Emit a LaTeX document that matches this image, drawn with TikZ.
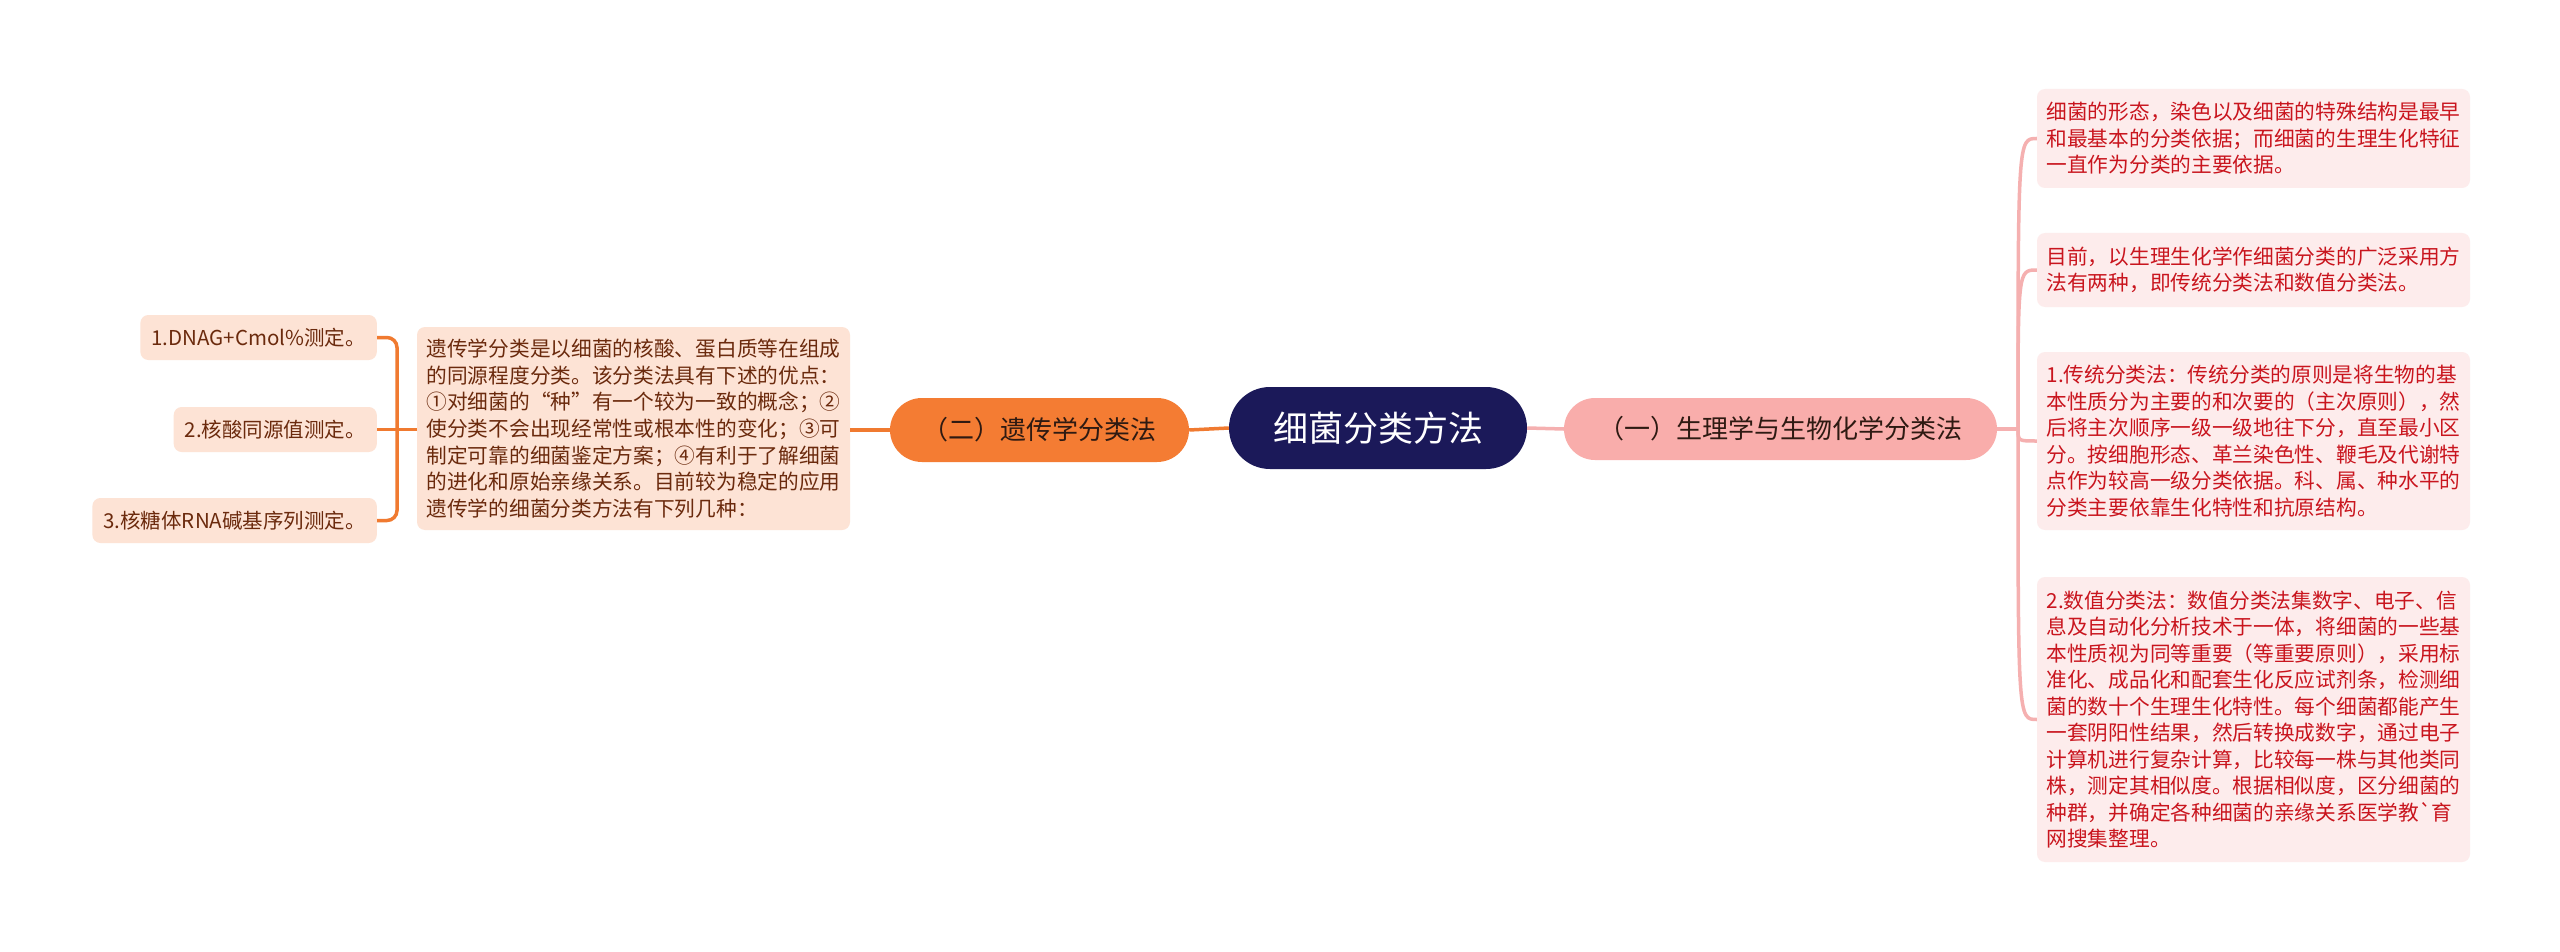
\documentclass[tikz,border=0pt]{standalone}
\usepackage{fontspec}
\setmainfont{Noto Sans CJK SC}[Ligatures=TeXOff]
\definecolor{rootc}{HTML}{1B1959}
\definecolor{orangec}{HTML}{F47C33}
\definecolor{orangeline}{HTML}{F07A30}
\definecolor{peachc}{HTML}{FDE3D5}
\definecolor{peachtext}{HTML}{6B2A0D}
\definecolor{pinkc}{HTML}{F9ADAB}
\definecolor{pinkline}{HTML}{F5B0B0}
\definecolor{rosec}{HTML}{FDECEC}
\definecolor{redtext}{HTML}{C9151E}
\definecolor{darktext}{HTML}{2E1A12}
\begin{document}
\begin{tikzpicture}[x=1pt,y=-1pt,
  rootbox/.style={fill=rootc, rounded corners=41pt, minimum width=298pt, minimum height=82pt, inner sep=0pt, text=white, font=\fontsize{35}{40}\selectfont},
  ochild/.style={fill=orangec, rounded corners=32pt, minimum width=299pt, minimum height=64pt, inner sep=0pt, text=darktext, font=\fontsize{26}{30}\selectfont},
  pchild/.style={fill=pinkc, rounded corners=31pt, minimum width=433pt, minimum height=62pt, inner sep=0pt, text=darktext, font=\fontsize{26}{30}\selectfont},
  descbox/.style={fill=peachc, rounded corners=8pt, minimum width=433pt, inner sep=0pt, text width=414pt, align=left, text=peachtext, font=\fontsize{20.7}{26.7}\selectfont},
  leafbox/.style={fill=peachc, rounded corners=8pt, minimum height=45pt, inner xsep=11pt, inner ysep=0pt, anchor=east, text=peachtext, font=\fontsize{20.5}{24}\selectfont},
  rosebox/.style={fill=rosec, rounded corners=8pt, minimum width=433pt, inner sep=0pt, text width=414pt, align=left, text=redtext, font=\fontsize{20.7}{26.5}\selectfont},
  oline/.style={draw=orangeline, line width=3.5pt},
  pline/.style={draw=pinkline, line width=3.5pt}]
\useasboundingbox[fill=white] (0,0) rectangle (2560,952);

% nodes
\node[rootbox] (root) at (1378,428) {细菌分类方法};
\node[ochild] (lc) at (1039.5,430) {（二）遗传学分类法};
\node[pchild] (rc) at (1780.5,429) {（一）生理学与生物化学分类法};

\node[descbox, minimum height=203pt] (desc) at (633.5,428.5) {遗传学分类是以细菌的核酸、蛋白质等在组成\\的同源程度分类。该分类法具有下述的优点：\\①对细菌的“种”有一个较为一致的概念；②\\使分类不会出现经常性或根本性的变化；③可\\制定可靠的细菌鉴定方案；④有利于了解细菌\\的进化和原始亲缘关系。目前较为稳定的应用\\遗传学的细菌分类方法有下列几种：};

\node[leafbox] (leaf1) at (377,337.5) {1.DNAG+Cmol\%测定。};
\node[leafbox] (leaf2) at (377,429.5) {2.核酸同源值测定。};
\node[leafbox] (leaf3) at (377,520.5) {3.核糖体RNA碱基序列测定。};

\node[rosebox, minimum height=99pt] (r1) at (2253.5,138.5) {细菌的形态，染色以及细菌的特殊结构是最早\\和最基本的分类依据；而细菌的生理生化特征\\一直作为分类的主要依据。};
\node[rosebox, minimum height=74pt] (r2) at (2253.5,270) {目前，以生理生化学作细菌分类的广泛采用方\\法有两种，即传统分类法和数值分类法。};
\node[rosebox, minimum height=178pt] (r3) at (2253.5,441) {1.传统分类法：传统分类的原则是将生物的基\\本性质分为主要的和次要的（主次原则），然\\后将主次顺序一级一级地往下分，直至最小区\\分。按细胞形态、革兰染色性、鞭毛及代谢特\\点作为较高一级分类依据。科、属、种水平的\\分类主要依靠生化特性和抗原结构。};
\node[rosebox, minimum height=285pt] (r4) at (2253.5,719.5) {2.数值分类法：数值分类法集数字、电子、信\\息及自动化分析技术于一体，将细菌的一些基\\本性质视为同等重要（等重要原则），采用标\\准化、成品化和配套生化反应试剂条，检测细\\菌的数十个生理生化特性。每个细菌都能产生\\一套阴阳性结果，然后转换成数字，通过电子\\计算机进行复杂计算，比较每一株与其他类同\\株，测定其相似度。根据相似度，区分细菌的\\种群，并确定各种细菌的亲缘关系医学教`育\\网搜集整理。};

% connectors
\coordinate (lt) at (397,429.5);
\coordinate (rt) at (2018,429);
\draw[oline] (root.west) -- (lc.east);
\draw[oline] (lc.west) -- (desc.east |- lc.west);
\draw[oline] (desc.west |- leaf2.east) -- (leaf2.east);
\draw[oline, rounded corners=10pt] (leaf1.east) -- (lt |- leaf1.east) -- (lt |- leaf3.east) -- (leaf3.east);

\draw[pline] (root.east) -- (rc.west);
\draw[pline] (rc.east) -- (rt);
\draw[pline] (rt) .. controls (rt |- r1.west) .. (r1.west);
\draw[pline] (rt) .. controls (rt |- r2.west) .. (r2.west);
\draw[pline] (rt) .. controls (rt |- r3.west) .. (r3.west);
\draw[pline] (rt) .. controls (rt |- r4.west) .. (r4.west);
\end{tikzpicture}
\end{document}
